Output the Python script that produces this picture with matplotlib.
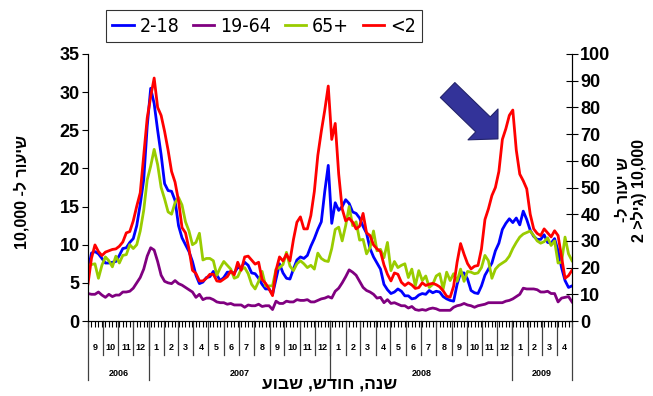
import matplotlib
matplotlib.use("Agg")
import matplotlib.pyplot as plt
import matplotlib.dates as mdates
import matplotlib.transforms as mtransforms
from matplotlib.font_manager import FontProperties
import pandas as pd

# weekly rates, Sep 2006 - Apr 2009
weeks = pd.date_range("2006-09-01", periods=140, freq="7D")

# rate per 10,000 (left axis)
age_2_18 = [6.6, 8.9, 9.1, 8.8, 8.2, 7.6, 7.6, 7.7, 7.8, 8.6, 9.5, 9.6, 10.3, 10.8, 12.5, 15.3, 18.5, 25.5, 30.5, 28.5,
            25.0, 21.8, 18.0, 17.1, 17.0, 15.8, 12.5, 10.9, 10.0, 9.1, 7.8, 6.0, 4.9, 5.1, 5.7,
            5.8, 6.5, 6.0, 5.3, 5.7, 6.4, 6.4, 6.3, 7.0, 7.0, 7.7, 7.3, 6.3, 6.2, 5.6, 4.8, 4.2, 4.2, 3.5, 5.5,
            7.5, 6.3, 5.6, 5.5, 6.8, 8.0, 8.4, 8.2, 8.6, 9.8, 10.8, 12.0, 13.0, 17.0, 20.4,
            12.8, 15.5, 14.5, 15.0, 15.9, 15.4, 14.3, 14.1, 13.5, 12.4, 11.5, 9.5, 8.4, 7.6, 6.8, 4.8, 4.1, 3.6,
            3.8, 4.2, 3.9, 3.3, 3.3, 2.9, 3.0, 3.4, 3.6, 3.5, 4.0, 3.7, 3.9, 3.8, 3.2, 2.9, 2.7,
            2.6, 4.8, 6.3, 6.3, 5.5, 4.0, 3.7, 3.6, 4.6, 6.0, 6.8, 7.6, 9.2, 10.2, 12.0, 12.8, 13.4, 12.9,
            13.5, 12.6, 14.4, 13.3, 11.9, 11.1, 10.7, 10.7, 11.3, 10.3, 10.2, 10.8, 9.2, 7.0, 5.3, 4.4, 4.6]
age_19_64 = [3.6, 3.5, 3.5, 3.8, 3.4, 3.1, 3.5, 3.2, 3.4, 3.4, 3.8, 3.8, 3.9, 4.3, 5.0, 5.7, 6.8, 8.5, 9.6, 9.3,
             7.8, 6.0, 5.2, 5.0, 4.9, 5.3, 4.9, 4.7, 4.4, 4.1, 3.8, 3.1, 3.5, 2.8, 3.0,
             3.0, 2.8, 2.5, 2.4, 2.4, 2.2, 2.3, 2.1, 2.1, 2.1, 1.8, 2.1, 2.0, 2.0, 2.2, 1.9, 2.0, 2.0, 1.5, 2.6,
             2.3, 2.3, 2.6, 2.5, 2.5, 2.8, 2.7, 2.7, 2.8, 2.5, 2.5, 2.7, 2.9, 3.0, 3.2,
             3.0, 3.9, 4.3, 5.0, 5.8, 6.7, 6.4, 6.0, 5.2, 4.4, 4.0, 3.8, 3.5, 3.0, 3.1, 2.4, 2.8, 2.3,
             2.4, 2.2, 2.0, 2.0, 1.7, 1.9, 1.5, 1.4, 1.5, 1.4, 1.6, 1.7, 1.6, 1.4, 1.4, 1.4, 1.4,
             1.8, 2.0, 2.1, 2.3, 2.1, 2.0, 1.8, 2.0, 2.1, 2.2, 2.4, 2.4, 2.4, 2.4, 2.4, 2.6, 2.7, 2.9,
             3.2, 3.5, 4.3, 4.2, 4.2, 4.2, 4.1, 3.8, 3.8, 3.9, 3.6, 3.6, 2.5, 3.0, 3.1, 3.2, 2.5]
age_65 = [7.3, 7.4, 7.5, 5.6, 7.3, 8.4, 7.9, 7.1, 8.5, 7.6, 8.6, 8.7, 10.0, 9.5, 10.0, 11.8, 14.5, 18.5, 20.3, 22.5,
          20.5, 17.5, 16.0, 14.3, 14.0, 15.5, 16.2, 15.2, 13.0, 11.8, 10.0, 10.3, 11.5, 8.0, 8.2,
          8.2, 7.9, 6.0, 7.0, 7.8, 7.3, 6.8, 5.6, 5.8, 6.8, 7.0, 6.2, 4.8, 4.2, 5.2, 6.5, 4.6, 4.6, 4.6, 6.8,
          7.0, 7.4, 9.0, 7.2, 6.6, 7.5, 7.9, 7.5, 7.0, 7.3, 6.8, 8.9, 8.2, 7.9, 7.8,
          9.5, 12.0, 12.3, 10.5, 12.5, 15.0, 12.5, 13.0, 10.6, 10.7, 8.8, 9.6, 11.8, 9.2, 9.4, 8.3, 10.3, 6.6,
          7.8, 7.0, 7.3, 7.5, 5.7, 6.8, 4.6, 6.6, 5.3, 5.9, 4.4, 4.8, 5.9, 6.2, 4.2, 6.4, 5.3,
          6.2, 5.2, 6.8, 5.2, 6.5, 6.4, 6.2, 6.3, 7.0, 8.6, 7.9, 5.6, 6.8, 7.3, 7.6, 7.9, 8.5, 9.5,
          10.3, 11.0, 11.4, 11.6, 11.8, 11.2, 10.5, 10.2, 10.4, 10.9, 9.9, 10.5, 7.6, 7.7, 11.0, 8.8, 7.9]
# rate per 10,000 for age < 2 (right axis)
age_under_2 = [13.9, 23.5, 28.5, 26.0, 24.5, 25.8, 26.3, 26.8, 27.0, 28.0, 29.6, 33.0, 33.5, 37.5, 43.0, 48.0, 62.0, 76.0, 84.0, 91.0,
               80.0, 77.0, 71.0, 64.0, 56.0, 52.0, 45.0, 35.0, 33.0, 27.0, 19.0, 17.8, 15.0, 15.0, 16.0,
               17.5, 17.5, 15.0, 14.8, 15.7, 16.6, 18.7, 17.3, 22.0, 19.0, 24.0, 24.3, 22.8, 21.3, 22.0, 15.5, 14.1, 12.0, 9.5, 19.0,
               24.0, 22.5, 25.0, 22.5, 30.5, 37.0, 39.0, 34.5, 34.5, 39.5, 48.5, 62.0, 71.0, 79.0, 88.0,
               68.0, 74.0, 55.0, 42.0, 37.5, 38.5, 37.0, 34.5, 35.5, 40.3, 33.0, 32.0, 28.5, 27.0, 26.0, 21.0, 17.5, 15.0,
               18.0, 17.5, 14.5, 13.3, 14.3, 13.5, 12.2, 12.5, 14.3, 13.3, 13.8, 14.1, 13.6, 12.8, 11.3, 9.3, 8.9,
               13.0, 22.0, 29.0, 25.0, 21.5, 19.5, 20.5, 20.8, 27.0, 38.0, 42.0, 47.0, 50.0, 56.0, 68.0, 72.0, 77.0, 79.0,
               64.0, 55.0, 52.5, 49.5, 40.0, 34.5, 32.8, 32.0, 34.5, 33.0, 31.5, 33.8, 32.0, 24.0, 16.0, 17.0, 19.0]

labels = ["2-18", "19-64", "65+", "<2"]
colors = ["#0000FF", "#800080", "#99CC00", "#FF0000"]
year_names = ["2006", "2007", "2008", "2009"]

# Hebrew texts written in visual (left-to-right) order
ylabel_left = "10,000 -ל רועיש"
ylabel_right = "-ל רועי ש\n2 >ליג) 10,000"
xlabel_text = "עובש ,שדוח ,הנש"

plt.rcParams["font.family"] = ["Liberation Sans", "DejaVu Sans"]
plt.rcParams["font.weight"] = "bold"

fig = plt.figure(figsize=(6.53, 3.96), dpi=100)
ax = fig.add_axes([88 / 653, 1 - 321 / 396, 484 / 653, 267 / 396])
ax2 = ax.twinx()

x = mdates.date2num(weeks)
h1, = ax.plot(x, age_2_18, color=colors[0], lw=2.0)
h2, = ax.plot(x, age_19_64, color=colors[1], lw=2.0)
h3, = ax.plot(x, age_65, color=colors[2], lw=2.0)
h4, = ax2.plot(x, age_under_2, color=colors[3], lw=2.0)

ax.set_xlim(x[0], x[-1])
ax.set_ylim(0, 35)
ax.set_yticks(range(0, 36, 5))
ax2.set_ylim(0, 100)
ax2.set_yticks(range(0, 101, 10))

for a in (ax, ax2):
    a.spines["top"].set_visible(False)
ax.tick_params(axis="y", direction="out", length=4, labelsize=13, pad=2)
ax2.tick_params(axis="y", direction="inout", length=8, labelsize=13, pad=2)
ax.set_xticks(x)
ax.set_xticklabels([])
ax.tick_params(axis="x", direction="out", length=4, width=0.8)

# month / year divisions under the axis
trans = mtransforms.blended_transform_factory(ax.transData, ax.transAxes)
months = pd.date_range("2006-09-01", "2009-05-01", freq="MS")
mnum = mdates.date2num(months)
for m in mnum[1:-1]:
    ax.plot([m, m], [0, -0.127], transform=trans, color="#404040", lw=0.9, clip_on=False)
for m0, m1, mo in zip(mnum[:-1], mnum[1:], months[:-1]):
    ax.text((m0 + m1) / 2, -0.10, str(mo.month), transform=trans, ha="center", va="center",
            fontsize=6.5, fontweight="bold")

year_edges = mdates.date2num(pd.to_datetime(["2006-09-01", "2007-01-01", "2008-01-01", "2009-01-01"]))
year_edges = list(year_edges) + [x[-1]]
for e in year_edges:
    ax.plot([e, e], [0, -0.222], transform=trans, color="#404040", lw=0.9, clip_on=False)
for y0, y1, name in zip(year_edges[:-1], year_edges[1:], year_names):
    ax.text((y0 + y1) / 2, -0.195, name, transform=trans, ha="center", va="center",
            fontsize=6.5, fontweight="bold")

fig.text(330 / 653, 1 - 384 / 396, xlabel_text, ha="center", va="center", fontsize=12.5, fontweight="bold")
fig.text(22 / 653, 1 - 192 / 396, ylabel_left, ha="center", va="center", rotation=90, fontsize=11.5,
         fontweight="bold")
fig.text(631 / 653, 1 - 190 / 396, ylabel_right, ha="center", va="center", rotation=90, fontsize=11.5,
         fontweight="bold", linespacing=1.0)

# arrow pointing at the 2009 peak
ax.annotate("", xy=(0.847, 0.682), xytext=(0.743, 0.865), xycoords="axes fraction",
            arrowprops=dict(arrowstyle="simple,head_length=1.5,head_width=3.1,tail_width=1.5",
                            fc="#333399", ec="#22226A", lw=0.8, shrinkA=0, shrinkB=0))

leg_font = FontProperties(family="DejaVu Sans", stretch="condensed", weight="normal", size=14)
leg = fig.legend([h1, h2, h3, h4], labels, ncol=4, loc="center", bbox_to_anchor=(264 / 653, 1 - 26 / 396),
                 prop=leg_font, frameon=True, fancybox=False, edgecolor="black", handlelength=1.1,
                 handletextpad=0.3, columnspacing=0.7, borderpad=0.35)
leg.get_frame().set_linewidth(0.8)

fig.savefig("out.png", dpi=100)
